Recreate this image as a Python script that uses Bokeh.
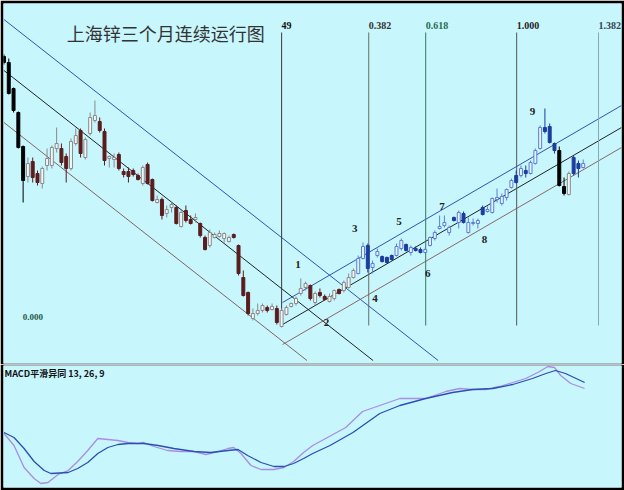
from bokeh.plotting import figure
from bokeh.layouts import column
from bokeh.models import Range1d, Label, ColumnDataSource
from bokeh.embed import file_html
from bokeh.resources import INLINE
from bokeh.core.properties import value

# ---------------- data ----------------
opens = [344, 338, 312, 288, 254, 224, 239, 227, 217, 235,
         235, 252, 252, 244, 232, 257, 270, 243, 267, 280,
         279, 269, 242, 241, 246, 229, 229, 230, 225, 217,
         236, 221, 198, 201, 187, 193, 193, 174, 190, 181,
         181, 177, 163, 155, 163, 164, 162, 159, 166, 155,
         123, 108, 82, 87, 90, 93, 91, 92, 74, 86,
         94, 97, 107, 113, 115, 98, 108, 104, 99, 102,
         111, 110, 113, 123, 127, 142, 155, 133, 145, 144,
         143, 145, 145, 152, 156, 148, 152, 151, 148, 155,
         162, 172, 175, 168, 183, 178, 187, 168, 177, 177,
         193, 189, 188, 201, 197, 203, 213, 225, 225, 230,
         227, 237, 252, 273, 274, 257, 250, 214, 206, 243,
         237, 233]
closes = [338, 307, 290, 253, 220, 237, 223, 218, 232, 242,
          253, 257, 238, 232, 259, 265, 247, 261, 283, 285,
          270, 240, 244, 243, 232, 226, 224, 226, 221, 233,
          217, 200, 201, 185, 191, 196, 177, 188, 180, 177,
          183, 165, 151, 168, 166, 167, 167, 163, 163, 127,
          105, 87, 87, 90, 95, 90, 94, 78, 90, 93,
          97, 102, 112, 117, 102, 107, 105, 101, 104, 110,
          107, 118, 123, 130, 142, 154, 132, 137, 149, 139,
          138, 141, 154, 160, 150, 153, 150, 148, 151, 163,
          168, 174, 178, 173, 180, 188, 178, 178, 178, 180,
          186, 191, 202, 203, 204, 211, 220, 218, 232, 227,
          238, 250, 273, 269, 258, 250, 215, 207, 227, 227,
          232, 237]
highs = [346, 342, 313, 289, 255, 243, 243, 230, 234, 252,
         255, 273, 257, 247, 262, 272, 272, 263, 288, 300,
         283, 272, 245, 247, 248, 232, 233, 232, 227, 235,
         238, 222, 205, 203, 195, 198, 195, 190, 195, 185,
         187, 178, 165, 171, 168, 170, 168, 165, 167, 156,
         130, 109, 92, 97, 97, 95, 97, 95, 92, 95,
         98, 104, 122, 119, 116, 109, 112, 106, 107, 111,
         112, 120, 127, 132, 145, 158, 157, 140, 152, 145,
         144, 146, 157, 162, 157, 155, 154, 153, 153, 164,
         170, 185, 185, 175, 184, 190, 189, 183, 182, 182,
         195, 194, 203, 212, 207, 212, 222, 230, 235, 235,
         240, 252, 275, 292, 277, 258, 254, 223, 229, 245,
         240, 241]
lows = [336, 306, 288, 252, 198, 218, 218, 215, 212, 230,
        232, 248, 235, 218, 230, 255, 243, 241, 265, 278,
        268, 235, 233, 233, 230, 223, 218, 224, 220, 215,
        216, 199, 197, 181, 183, 188, 176, 173, 178, 176,
        178, 163, 150, 153, 162, 163, 158, 158, 162, 125,
        104, 85, 80, 85, 88, 88, 90, 76, 73, 85,
        93, 95, 105, 110, 100, 95, 103, 100, 98, 100,
        106, 108, 112, 122, 126, 141, 128, 127, 143, 138,
        137, 140, 144, 150, 149, 145, 149, 147, 147, 154,
        160, 171, 173, 165, 179, 172, 177, 167, 175, 172,
        185, 188, 187, 198, 195, 200, 212, 217, 223, 223,
        226, 236, 251, 267, 257, 247, 214, 205, 205, 225,
        223, 232]
# colour group of each bar: 0 black, 1 maroon, 2 blue
segments = [0] * 5 + [1] * 69 + [2] * 42 + [0] * 3 + [2] * 3

# channel anchors (bar, price)
down_upper = ([0, 90.7], [381, 40])
down_mid = ([0, 77.1], [330, 40])
down_low = ([0, 63.3], [278, 40])
up_upper = ([58.2, 129.0], [98, 295])
up_mid = ([58.2, 129.0], [76, 273])
up_low = ([58.2, 129.0], [56, 253])

fib_labels = ["49", "0.382", "0.618", "1.000", "1.382"]
fib_bar = [58.0, 76.2, 88.1, 107.1, 124.2]

wave_labels = ["1", "2", "3", "4", "5", "6", "7", "8", "9"]
wave_bar = [61.4, 67.4, 73.3, 77.5, 82.5, 88.5, 91.5, 100.4, 110.4]
wave_price = [136, 78, 172, 102, 179, 127, 194, 161, 289]

dif_bar = [0, 2.1, 4.2, 6.3, 7.7, 9.2, 11.3, 13.4, 15.4, 17.5,
           19.6, 21.7, 23.8, 25.9, 28, 29.2, 31.3, 34.2, 37, 39.7,
           42.2, 44.7, 46.8, 48, 49.5, 51.6, 53.7, 56.4, 58.5, 60.5,
           62.6, 64.5, 67.2, 71.4, 74.9, 78.5, 82.7, 88.1, 92.3, 95.2,
           97.9, 100.6, 103.5, 106.3, 109, 111.9, 113.6, 115, 116.3, 118.4,
           121.3]
dif = [22, 10, -12, -23, -28, -27, -19, -15, -6, 5,
       17, 16, 15, 13, 12, 13, 9, 5, 4, 4,
       1, 4, 7, 8, 2, -10, -14, -14, -12, -6,
       3, 10, 17, 28, 44, 50, 57, 57, 64, 67,
       66, 66, 69, 73, 77, 84, 89, 88, 80, 72,
       67]
dea_bar = [0, 2.1, 4.2, 6.3, 8.4, 9.8, 13.4, 15.4, 17.5, 19.6,
           21.7, 23.8, 25.9, 29.2, 32.2, 35.5, 39.7, 43.2, 46.8, 48.9,
           50.9, 53.7, 56.4, 58.5, 60.5, 62.6, 64.5, 68.1, 72.9, 78.5,
           82.7, 88.1, 93.7, 97.9, 102.1, 106.3, 110.4, 113.2, 115.2, 117.3,
           121.3]
dea = [23, 18, 7, -6, -15, -18, -17, -13, -7, 2,
       8, 11, 12, 12, 10, 7, 4, 3, 5, 6,
       0, -7, -11, -11, -8, -3, 2, 10, 23, 42,
       50, 57, 63, 66, 67, 71, 77, 82, 85, 82,
       73]

# ---------------- styling ----------------
BG = "#c8f6fd"
down_col = {0: "#000000", 1: "#5a1c1c", 2: "#1c3c9e"}
up_line = {0: "#8a8a8a", 1: "#8a8a8a", 2: "#5a80d4"}
up_fill = {0: "#eef8fa", 1: "#eef8fa", 2: "#e6f1ff"}

n = len(opens)
bars = list(range(n))
fills, lines, tops, bots = [], [], [], []
for i in range(n):
    s = segments[i]
    up = closes[i] > opens[i]
    fills.append(up_fill[s] if up else down_col[s])
    lines.append(up_line[s] if up else down_col[s])
    tops.append(max(opens[i], closes[i]))
    bots.append(min(opens[i], closes[i]))
src = ColumnDataSource(dict(x=bars, o=opens, c=closes, h=highs, l=lows,
                            top=tops, bot=bots, fill=fills, line=lines))

W = 624
p1 = figure(width=W, height=364, output_backend="svg", toolbar_location=None,
            title=None, x_axis_location=None, y_axis_location=None,
            x_range=Range1d(-0.1, 129.0), y_range=Range1d(37, 397),
            min_border_left=3, min_border_right=3, min_border_top=3, min_border_bottom=1,
            background_fill_color=BG, border_fill_color="black", outline_line_color=None)
p1.xgrid.visible = False
p1.ygrid.visible = False

# down channel
p1.line(*down_upper, line_color="#3352b5", line_width=1)
p1.line(*down_mid, line_color="#222222", line_width=1)
p1.line(*down_low, line_color="#7f6464", line_width=1)
# up channel
p1.line(*up_upper, line_color="#3352b5", line_width=1)
p1.line(*up_mid, line_color="#222222", line_width=1)
p1.line(*up_low, line_color="#8a6666", line_width=1)

# fibonacci time lines
fib_cols = ["#3a3a3a", "#6a6a6a", "#2f7a5c", "#555555", "#86aab4"]
fib_txt_cols = ["#111111", "#333333", "#2a6a50", "#222222", "#334455"]
p1.segment(x0=fib_bar, y0=[368] * 5, x1=fib_bar, y1=[75] * 5,
           line_color=fib_cols, line_width=1)
p1.text(x=fib_bar, y=[375] * 5, text=fib_labels, text_color=fib_txt_cols,
        text_font=value("Liberation Sans Narrow"), text_font_style="bold",
        text_font_size="10px", text_align="left", text_baseline="middle")

# candles
p1.segment(x0="x", y0="h", x1="x", y1="l", line_color="line", line_width=1, source=src)
p1.vbar(x="x", width=0.62, top="top", bottom="bot", fill_color="fill",
        line_color="line", line_width=1, source=src)

# wave counts
p1.text(x=wave_bar, y=wave_price, text=wave_labels, text_color="#222222",
        text_font=value("Liberation Serif"), text_font_style="bold",
        text_font_size="11px", text_align="center", text_baseline="middle")

p1.add_layout(Label(x=13.1, y=355, text="上海锌三个月连续运行图",
                    text_font="Noto Sans CJK SC", text_font_size="18px",
                    text_color="#333333", text_baseline="bottom", text_align="left"))
p1.add_layout(Label(x=3.9, y=84, text="0.000", text_font="Liberation Sans Narrow",
                    text_font_style="bold", text_font_size="9px",
                    text_color="#1f5a46", text_baseline="middle", text_align="left"))

p2 = figure(width=W, height=126, output_backend="svg", toolbar_location=None,
            title=None, x_axis_location=None, y_axis_location=None,
            x_range=p1.x_range, y_range=Range1d(-32, 90),
            min_border_left=3, min_border_right=3, min_border_top=1, min_border_bottom=3,
            background_fill_color=BG, border_fill_color="black", outline_line_color=None)
p2.xgrid.visible = False
p2.ygrid.visible = False
p2.line(dif_bar, dif, line_color="#a98de2", line_width=1.3)
p2.line(dea_bar, dea, line_color="#2b4fb3", line_width=1.3)
p2.add_layout(Label(x=0.1, y=89, text="MACD平滑异同 13, 26, 9",
                    text_font="Noto Sans CJK SC", text_font_style="bold",
                    text_font_size="9px", text_color="#111111",
                    text_baseline="top", text_align="left"))

layout = column(p1, p2, spacing=0)
open("out.html", "w").write(file_html(layout, INLINE))
